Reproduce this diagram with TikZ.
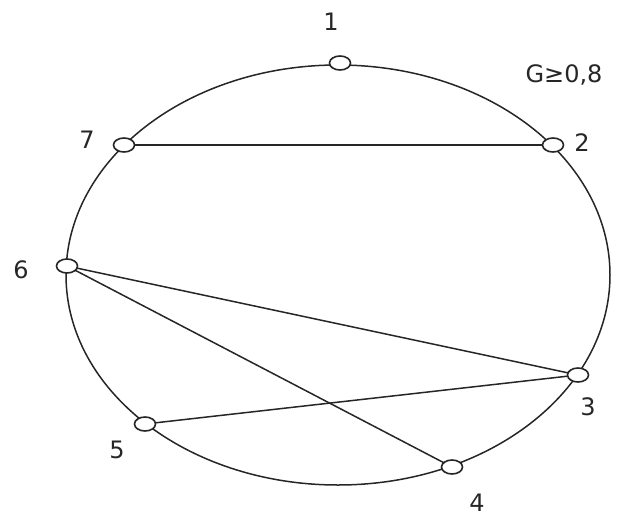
\documentclass[tikz,border=0pt]{standalone}
\usepackage{fontspec}
\setmainfont{DejaVu Sans}
\usetikzlibrary{shapes.geometric}

\begin{document}
\begin{tikzpicture}[
    x=1pt, y=-1pt,
    font=\fontsize{24}{29}\selectfont,
    vertex/.style = {ellipse, draw=black!85, line width=1.6pt, fill=white,
                     minimum width=21pt, minimum height=14pt, inner sep=0pt},
    num/.style    = {inner sep=1pt, text=black!85},
    edge/.style   = {line width=1.5pt, draw=black!85}
]
\useasboundingbox (0,0) rectangle (621,519);

% --- outer ring ---------------------------------------------------------------
\draw[edge] (338,275) ellipse [x radius=272, y radius=210];

% --- chords -------------------------------------------------------------------
\coordinate (p1) at (340,63);
\coordinate (p2) at (553,145);
\coordinate (p3) at (578,375);
\coordinate (p4) at (452,467);
\coordinate (p5) at (145,424);
\coordinate (p6) at (67,266);
\coordinate (p7) at (124,145);

\draw[edge] (p7) -- (p2);
\draw[edge] (p6) -- (p3);
\draw[edge] (p6) -- (p4);
\draw[edge] (p5) -- (p3);

% --- vertices -----------------------------------------------------------------
\node[vertex] (n1) at (p1) {};
\node[vertex] (n2) at (p2) {};
\node[vertex] (n3) at (p3) {};
\node[vertex] (n4) at (p4) {};
\node[vertex] (n5) at (p5) {};
\node[vertex] (n6) at (p6) {};
\node[vertex] (n7) at (p7) {};

% --- labels -------------------------------------------------------------------
\node[num] (l1) at (331,22)  {1};
\node[num] (l2) at (582,143) {2};
\node[num] (l3) at (588,407) {3};
\node[num] (l4) at (477,503) {4};
\node[num] (l5) at (117,450) {5};
\node[num] (l6) at (21,270)  {6};
\node[num] (l7) at (87,140)  {7};
\node[num] (cap) at (564,75) {G≥0,8};
\end{tikzpicture}
\end{document}
